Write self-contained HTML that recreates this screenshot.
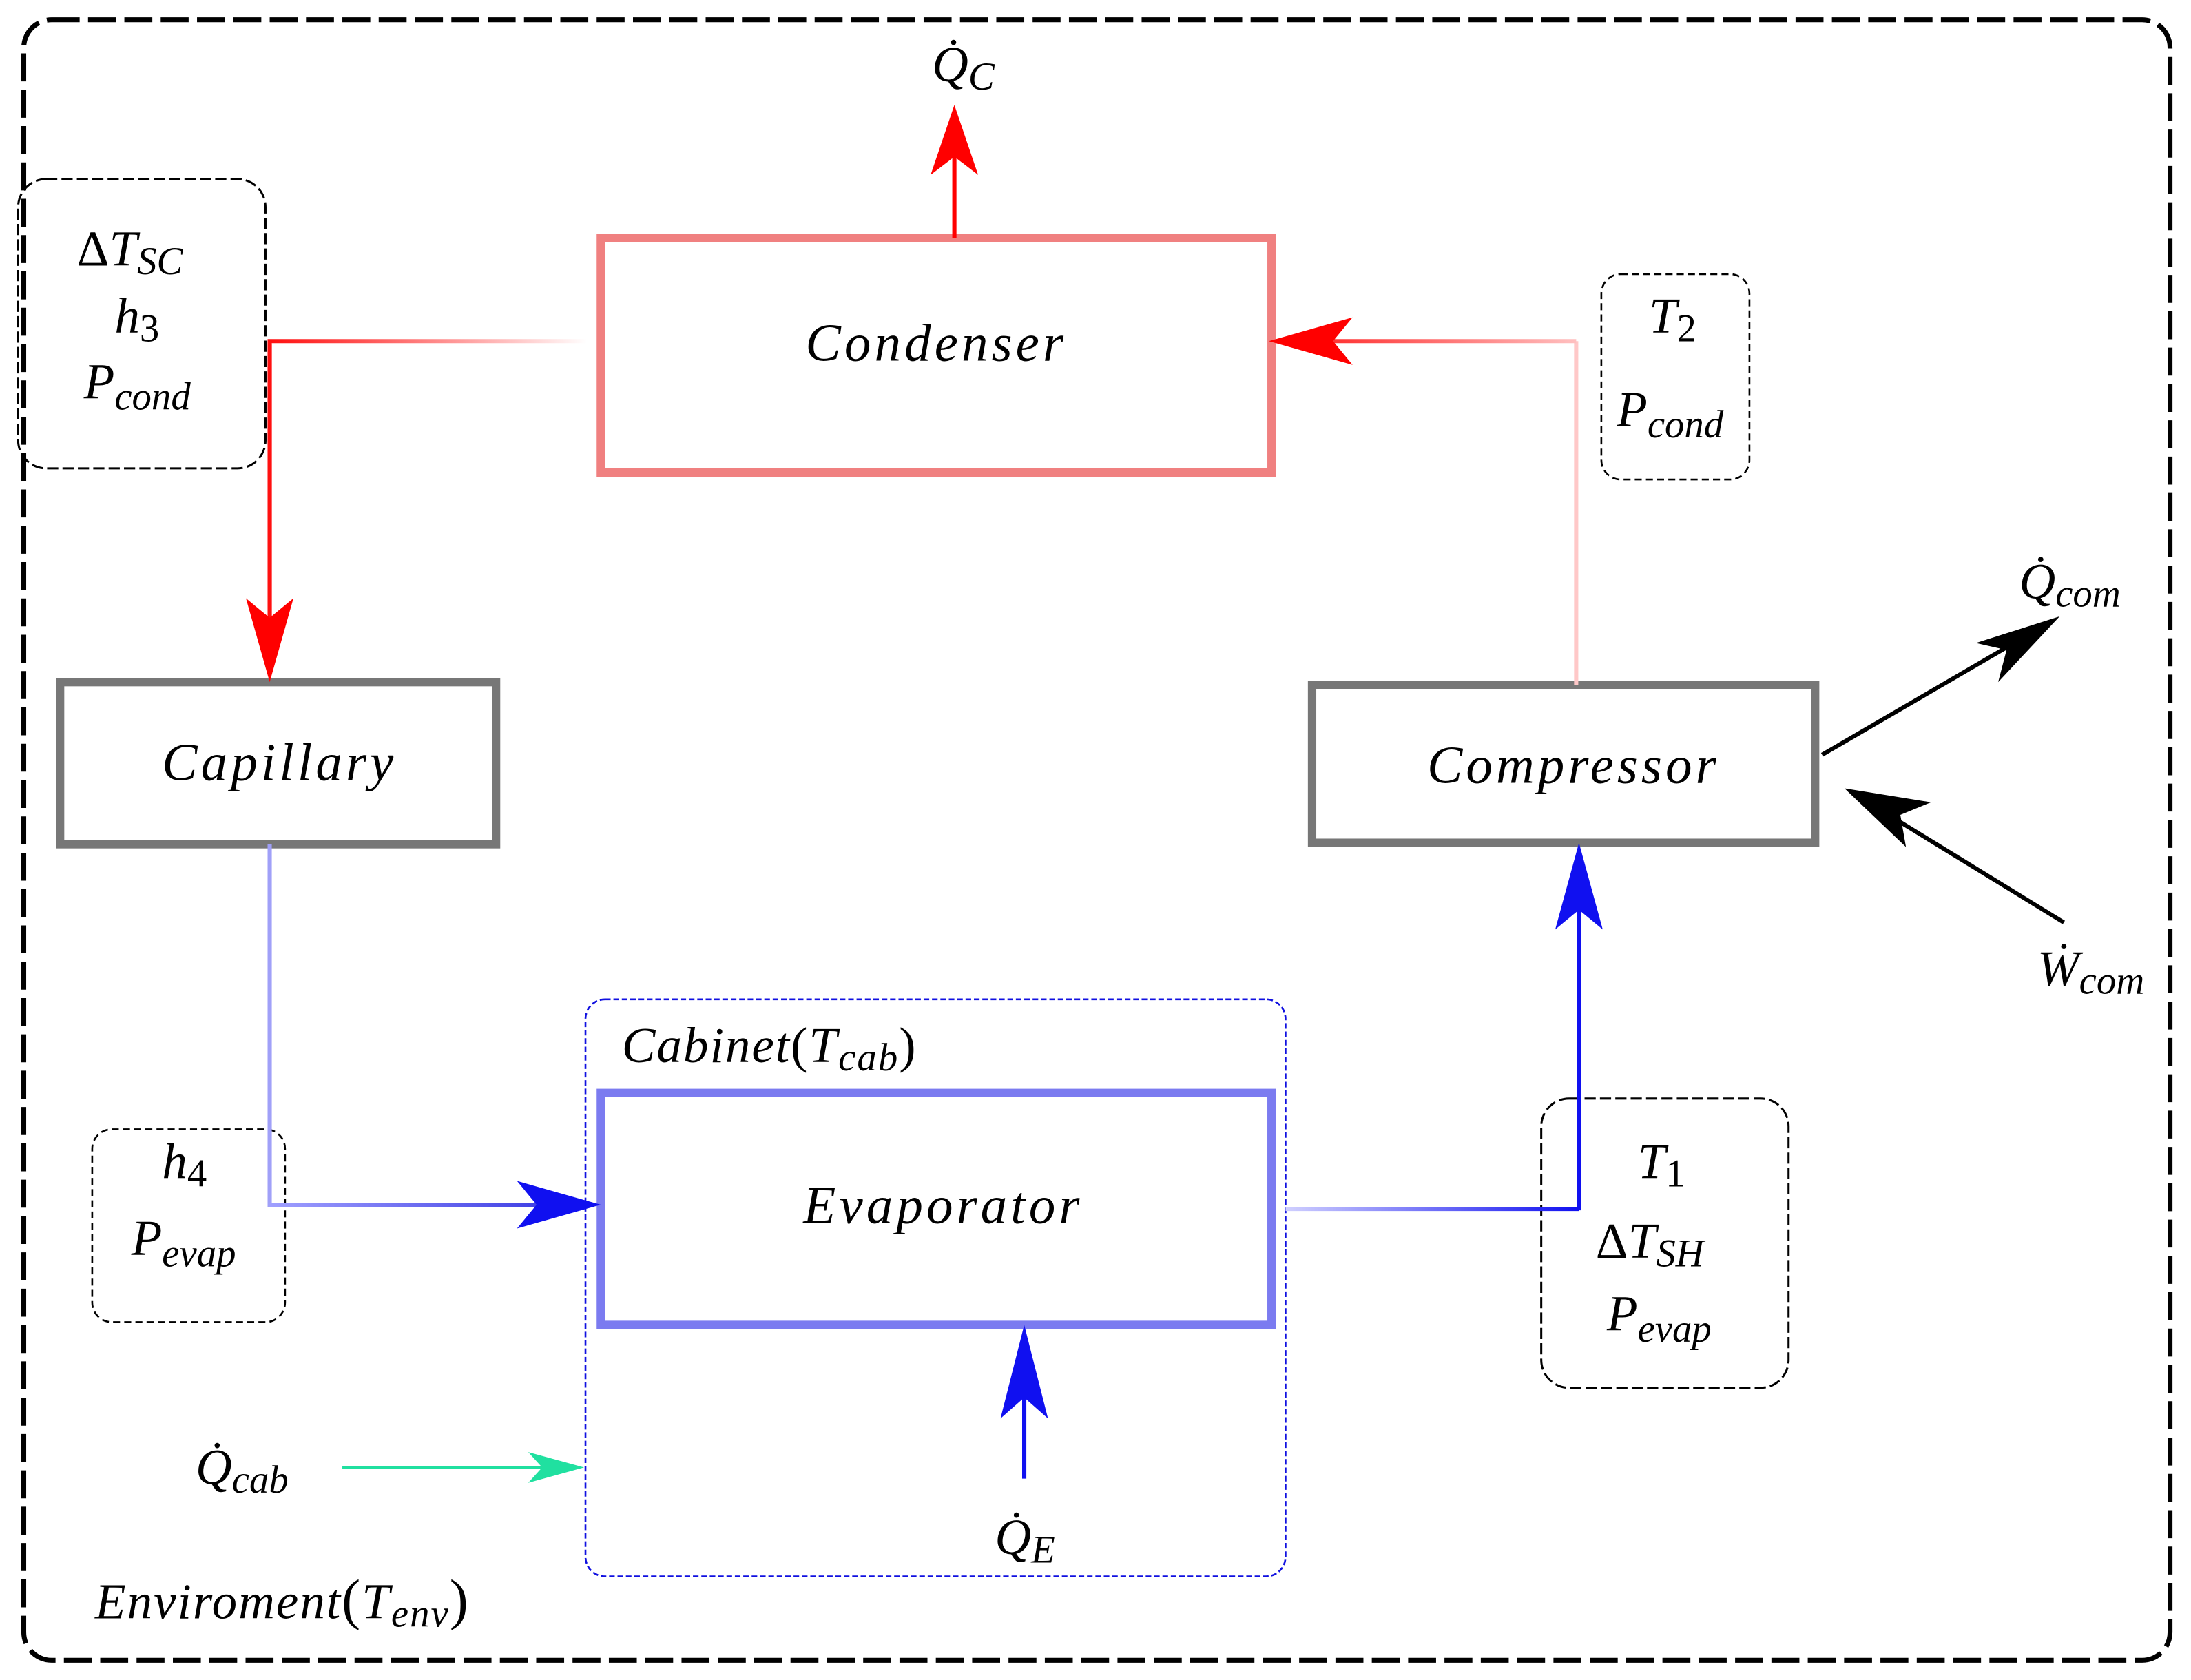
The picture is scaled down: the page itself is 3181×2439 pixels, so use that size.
<!DOCTYPE html>
<html><head><meta charset="utf-8"><style>html,body{margin:0;padding:0;background:#fff}svg{display:block}text{font-family:"Liberation Serif",serif;font-style:italic;fill:#000}</style></head><body>
<svg width="3181" height="2439" viewBox="0 0 1568 1202" xmlns="http://www.w3.org/2000/svg">
<defs>
<linearGradient id="gl" x1="420" y1="0" x2="193" y2="0" gradientUnits="userSpaceOnUse"><stop offset="0" stop-color="#ff0000" stop-opacity="0"/><stop offset="1" stop-color="#ff1010"/></linearGradient>
<linearGradient id="gr" x1="1128" y1="0" x2="930" y2="0" gradientUnits="userSpaceOnUse"><stop offset="0" stop-color="#ffc0c0"/><stop offset="1" stop-color="#ff2020"/></linearGradient>
<linearGradient id="gb" x1="193" y1="0" x2="420" y2="0" gradientUnits="userSpaceOnUse"><stop offset="0" stop-color="#a0a0ff"/><stop offset="1" stop-color="#3030e0"/></linearGradient>
<linearGradient id="gb2" x1="920" y1="0" x2="1130" y2="0" gradientUnits="userSpaceOnUse"><stop offset="0" stop-color="#d0d0ff"/><stop offset="1" stop-color="#1010f0"/></linearGradient>
</defs>
<rect x="17" y="14" width="1536" height="1174" rx="20" fill="none" stroke="#000" stroke-width="3.5" stroke-dasharray="20,6"/>
<rect x="13" y="128" width="177" height="207" rx="20" fill="none" stroke="#000" stroke-width="1.5" stroke-dasharray="8,3"/>
<rect x="1146" y="196" width="106" height="147" rx="14" fill="none" stroke="#000" stroke-width="1.3" stroke-dasharray="5,3"/>
<rect x="66" y="808" width="138" height="138" rx="14" fill="none" stroke="#000" stroke-width="1.3" stroke-dasharray="5,3"/>
<rect x="1103" y="786" width="177" height="207" rx="20" fill="none" stroke="#000" stroke-width="1.5" stroke-dasharray="8,3"/>
<rect x="419" y="715" width="501" height="413" rx="14" fill="none" stroke="#1010e0" stroke-width="1.3" stroke-dasharray="4,2"/>
<rect x="430" y="170" width="480" height="168" fill="none" stroke="#f08080" stroke-width="6"/>
<rect x="43" y="488" width="312" height="116" fill="none" stroke="#777" stroke-width="6"/>
<rect x="939" y="490" width="360" height="113" fill="none" stroke="#777" stroke-width="6"/>
<rect x="430" y="782" width="480" height="166" fill="none" stroke="#7b7bf0" stroke-width="6"/>
<line x1="683" y1="170" x2="683" y2="110" stroke="#ff0000" stroke-width="3"/>
<path d="M683 75 L700 125 L683 112 L666 125Z" fill="#ff0000"/>
<path d="M420 244 H193 V460" fill="none" stroke="url(#gl)" stroke-width="3"/>
<line x1="193" y1="246" x2="193" y2="460" stroke="#ff1010" stroke-width="3"/>
<path d="M193 488 L176 428 L193 442 L210 428Z" fill="#ff0000"/>
<line x1="1128" y1="490" x2="1128" y2="244" stroke="#ffc8c8" stroke-width="3"/>
<line x1="1128" y1="244" x2="940" y2="244" stroke="url(#gr)" stroke-width="3"/>
<path d="M908 244 L968 227 L954 244 L968 261Z" fill="#ff0000"/>
<path d="M193 604 V862 H400" fill="none" stroke="#a0a0f8" stroke-width="3"/>
<line x1="193" y1="862" x2="400" y2="862" stroke="url(#gb)" stroke-width="3"/>
<path d="M430 862 L370 845 L384 862 L370 879Z" fill="#1010f0"/>
<line x1="920" y1="865" x2="1130" y2="865" stroke="url(#gb2)" stroke-width="3"/>
<line x1="1130" y1="866" x2="1130" y2="630" stroke="#1010f0" stroke-width="3"/>
<path d="M1130 603 L1147 665 L1130 651 L1113 665Z" fill="#1010f0"/>
<line x1="733" y1="1058" x2="733" y2="980" stroke="#1010f0" stroke-width="3"/>
<path d="M733 948 L750 1015 L733 1000 L716 1015Z" fill="#1010f0"/>
<line x1="245" y1="1050" x2="400" y2="1050" stroke="#20e0a0" stroke-width="2"/>
<path d="M418 1050 L378 1039 L388 1050 L378 1061Z" fill="#20e0a0"/>
<line x1="1304" y1="540" x2="1450" y2="455" stroke="#000" stroke-width="3"/>
<path d="M1474 441 L1430 488 L1436 465 L1414 460Z" fill="#000"/>
<line x1="1477" y1="660" x2="1345" y2="579" stroke="#000" stroke-width="3"/>
<path d="M1320 564 L1382 574 L1360 583 L1364 606Z" fill="#000"/>
<g font-size="38">
<text x="670" y="258" text-anchor="middle" letter-spacing="2.5">Condenser</text>
<text x="200" y="558" text-anchor="middle" letter-spacing="2.5">Capillary</text>
<text x="1126" y="560" text-anchor="middle" letter-spacing="2.5">Compressor</text>
<text x="675" y="875" text-anchor="middle" letter-spacing="2.5">Evaporator</text>
</g>
<g font-size="36">
<text x="667" y="58">Q̇<tspan font-size="28" dy="6">C</tspan></text>
<text x="55" y="190"><tspan font-style="normal">Δ</tspan>T<tspan font-size="28" dy="6">SC</tspan></text>
<text x="82" y="238">h<tspan font-size="28" dy="6" font-style="normal">3</tspan></text>
<text x="60" y="285">P<tspan font-size="28" dy="8">cond</tspan></text>
<text x="1180" y="238">T<tspan font-size="28" dy="6" font-style="normal">2</tspan></text>
<text x="1157" y="305">P<tspan font-size="28" dy="8">cond</tspan></text>
<text x="1445" y="428">Q̇<tspan font-size="28" dy="6">com</tspan></text>
<text x="1458" y="705">Ẇ<tspan font-size="28" dy="6">com</tspan></text>
<text x="116" y="843">h<tspan font-size="28" dy="6" font-style="normal">4</tspan></text>
<text x="94" y="898">P<tspan font-size="28" dy="8">evap</tspan></text>
<text x="1172" y="843">T<tspan font-size="28" dy="6" font-style="normal">1</tspan></text>
<text x="1142" y="900"><tspan font-style="normal">Δ</tspan>T<tspan font-size="28" dy="6">SH</tspan></text>
<text x="1150" y="952">P<tspan font-size="28" dy="8">evap</tspan></text>
<text x="445" y="760" letter-spacing="1">Cabinet<tspan font-style="normal">(</tspan>T<tspan font-size="28" dy="6">cab</tspan><tspan dy="-6" font-style="normal">)</tspan></text>
<text x="140" y="1062">Q̇<tspan font-size="28" dy="6">cab</tspan></text>
<text x="712" y="1112">Q̇<tspan font-size="28" dy="6">E</tspan></text>
<text x="68" y="1158" letter-spacing="1">Enviroment<tspan font-style="normal" font-size="40">(</tspan>T<tspan font-size="28" dy="6">env</tspan><tspan dy="-6" font-style="normal" font-size="40">)</tspan></text>
</g>
</svg>
</body></html>
